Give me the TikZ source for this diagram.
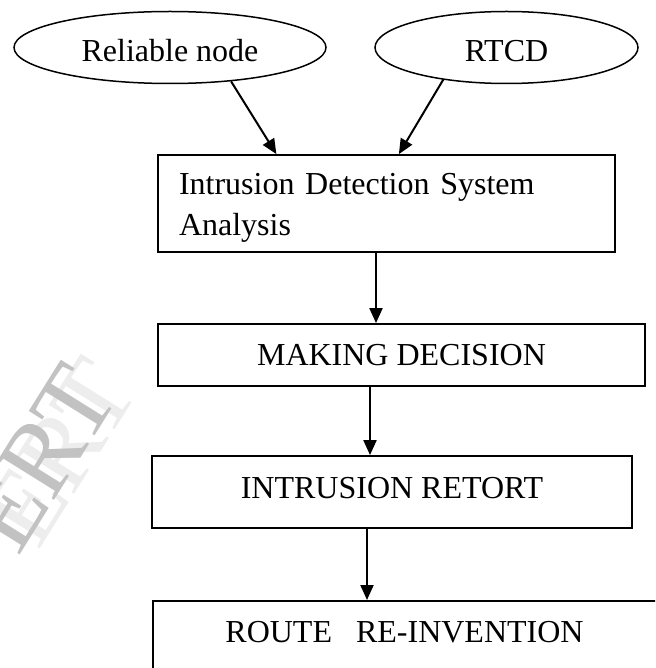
\documentclass[tikz,border=0pt]{standalone}
\usepackage{fontspec}
\setmainfont{Liberation Serif}
\usetikzlibrary{arrows.meta,calc,shapes.geometric}
\begin{document}
\begin{tikzpicture}[x=1pt,y=-1pt,
  lbl/.style={font=\fontsize{32}{40}\selectfont},
  oval/.style={ellipse, draw, line width=1.5pt, inner sep=0pt, lbl, text height=29pt, text depth=0pt},
  stepbox/.style={rectangle, draw, line width=1.8pt, inner sep=0pt, lbl},
  arr/.style={line width=2pt, -{Triangle[length=15pt,width=13pt]}},
  wmark/.style={rotate=58, font=\fontsize{105}{105}\selectfont}]
\useasboundingbox (0,0) rectangle (655,668);
\clip (0,0) rectangle (655,668);
% watermark
\node[wmark, text=gray!14] (wm2) at (60,452) {ERT};
\node[wmark, text=gray!48] (wm) at (40,458) {ERT};
% ellipses
\node[oval, minimum width=312pt, minimum height=72pt] (e1) at (170,47.5) {Reliable node\hspace{16pt}};
\node[oval, minimum width=263pt, minimum height=72pt] (e2) at (506.5,47.5) {RTCD};
% boxes
\node[stepbox, minimum width=457pt, minimum height=97pt, text width=415pt, inner xsep=21pt, align=left, text height=30pt, text depth=47pt] (b1) at (386.5,203.5) {Intrusion Detection System\\Analysis};
\node[stepbox, minimum width=487pt, minimum height=62pt] (b2) at (401.5,355) {MAKING DECISION};
\node[stepbox, minimum width=480pt, minimum height=72pt, text depth=8pt] (b3) at (392,492) {INTRUSION RETORT};
\node[stepbox, minimum width=560pt, minimum height=100pt, anchor=north west] (b4) at (152,600) {};
\node[lbl] (b4t) at (404.5,632.5) {ROUTE\ \ \ RE-INVENTION};
% connectors
\draw[arr] (e1.331.6) -- ($(b1.north west)!0.26!(b1.north east)$);
\draw[arr] (e2.207.9) -- ($(b1.north west)!0.527!(b1.north east)$);
\draw[arr] (376,0 |- b1.south) -- (376,0 |- b2.north);
\draw[arr] (370,0 |- b2.south) -- (370,0 |- b3.north);
\draw[arr] (367,0 |- b3.south) -- (367,0 |- b4.north);
\end{tikzpicture}
\end{document}
